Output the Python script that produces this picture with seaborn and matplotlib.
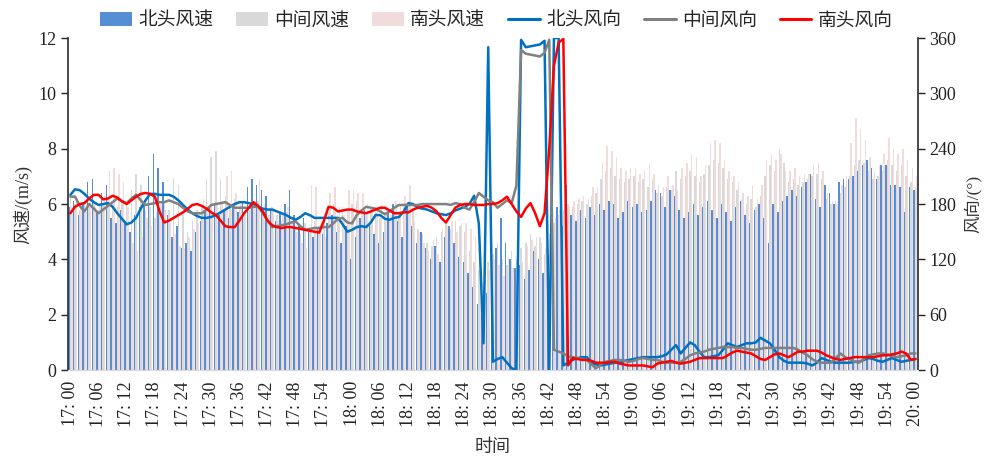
import numpy as np
import pandas as pd
import matplotlib
matplotlib.use("Agg")
import matplotlib.pyplot as plt
import seaborn as sns
from matplotlib.patches import Patch
from matplotlib.lines import Line2D

# ---------------- data (one value per minute, 17:00 .. 20:00) ----------------
tick_labels = ["17: 00", "17: 06", "17: 12", "17: 18", "17: 24", "17: 30", "17: 36",
               "17: 42", "17: 48", "17: 54", "18: 00", "18: 06", "18: 12", "18: 18",
               "18: 24", "18: 30", "18: 36", "18: 42", "18: 48", "18: 54", "19: 00",
               "19: 06", "19: 12", "19: 18", "19: 24", "19: 30", "19: 36", "19: 42",
               "19: 48", "19: 54", "20: 00"]

series_names = ["北头风速", "中间风速", "南头风速"]
line_names = ["北头风向", "中间风向", "南头风向"]

spd_north = [
    5.9, 6.1, 5.6, 6.0, 6.8, 6.9, 5.7, 6.4, 6.7, 5.5, 5.3, 5.8,
    5.4, 5.0, 5.6, 5.9, 6.0, 7.0, 7.8, 7.3, 6.8, 5.6, 4.8, 5.2,
    4.4, 4.6, 4.3, 5.0, 5.4, 5.7, 5.9, 6.0, 5.6, 5.8, 5.5, 5.9,
    5.7, 6.1, 6.6, 6.9, 6.7, 6.5, 6.3, 5.8, 5.4, 5.7, 6.0, 6.5,
    5.6, 5.2, 5.5, 5.0, 4.8, 5.1, 4.9, 5.3, 5.6, 5.0, 4.6, 5.2,
    4.0, 4.8, 5.5, 5.8, 5.3, 4.9, 4.6, 5.0, 5.7, 6.0, 5.4, 4.8,
    5.9, 5.2, 4.6, 5.0, 4.4, 4.0, 4.5, 3.9, 4.8, 5.2, 4.6, 4.1,
    3.9, 3.5, 3.0, 2.4, 2.0, 2.8, 3.6, 4.4, 5.5, 4.6, 4.0, 3.7,
    3.8, 3.3, 3.6, 4.3, 4.0, 3.5, 4.2, 4.8, 5.9, 5.2, 6.7, 5.6,
    5.4, 5.8, 5.5, 5.9, 5.6, 6.0, 5.8, 6.1, 6.0, 5.5, 5.7, 6.1,
    5.9, 6.0, 5.7, 5.8, 6.1, 6.5, 6.4, 5.9, 6.5, 6.3, 5.8, 5.5,
    5.7, 6.0, 5.6, 5.9, 6.1, 5.8, 5.5, 6.0, 5.7, 5.4, 5.9, 6.1,
    5.6, 5.3, 5.8, 6.0, 5.5, 4.6, 6.0, 5.7, 6.1, 6.3, 6.5, 6.3,
    6.6, 6.8, 7.1, 6.2, 5.9, 6.7, 6.4, 6.0, 6.8, 6.9, 6.9, 7.0,
    7.2, 7.4, 7.6, 7.3, 6.9, 7.4, 7.4, 6.7, 6.7, 6.6, 5.7, 6.6,
    6.5]

spd_mid = [
    6.3, 6.0, 5.8, 6.2, 5.9, 6.0, 5.8, 6.0, 6.2, 6.0, 5.9, 6.1,
    6.0, 6.5, 7.1, 6.7, 5.8, 5.9, 5.5, 5.7, 6.0, 5.8, 6.9, 6.7,
    5.6, 5.0, 5.4, 5.8, 5.9, 6.9, 7.7, 7.9, 6.9, 6.3, 5.9, 6.2,
    5.9, 5.6, 5.8, 6.0, 6.1, 5.7, 5.5, 5.9, 5.6, 5.4, 5.7, 5.3,
    5.1, 4.9, 5.3, 5.0, 5.4, 5.2, 5.5, 5.7, 6.0, 5.5, 5.9, 5.8,
    6.0, 6.1, 5.8, 5.6, 5.9, 5.7, 5.5, 5.7, 5.4, 5.8, 5.6, 5.9,
    6.0, 5.8, 5.1, 4.9, 4.6, 4.5, 4.8, 5.0, 5.3, 5.1, 5.4, 5.2,
    5.0, 4.3, 3.9, 3.6, 3.2, 3.9, 4.2, 4.6, 4.0, 3.8, 4.3, 4.0,
    4.4, 4.6, 4.9, 4.5, 4.8, 4.2, 4.9, 5.3, 5.6, 5.8, 6.0, 5.9,
    6.0, 6.1, 6.0, 6.3, 6.4, 6.9, 7.2, 7.3, 7.0, 6.9, 6.8, 6.9,
    7.0, 6.8, 6.9, 6.6, 6.9, 6.4, 6.3, 6.6, 6.5, 7.2, 6.9, 7.0,
    7.2, 7.0, 6.8, 7.1, 7.4, 7.6, 7.5, 7.3, 6.9, 6.8, 6.5, 6.2,
    6.0, 6.2, 5.9, 6.3, 7.0, 7.4, 7.2, 8.0, 7.5, 6.8, 6.9, 6.7,
    6.8, 6.9, 7.0, 7.1, 6.9, 6.2, 6.0, 6.1, 6.4, 6.6, 7.0, 7.4,
    7.6, 7.5, 7.2, 6.9, 7.0, 7.2, 7.6, 7.4, 7.2, 7.4, 7.0, 6.8,
    6.6]

spd_south = [
    5.9, 6.2, 6.0, 5.7, 6.1, 5.9, 6.0, 6.3, 7.2, 7.3, 7.1, 6.8,
    5.9, 4.6, 4.3, 4.8, 5.5, 5.2, 5.7, 6.0, 5.8, 5.3, 4.9, 4.5,
    4.4, 4.8, 5.1, 5.3, 6.2, 5.8, 5.6, 6.0, 6.1, 7.0, 7.2, 6.4,
    6.0, 5.7, 5.9, 6.1, 6.9, 6.0, 5.6, 5.8, 5.4, 5.6, 5.9, 5.5,
    5.0, 4.6, 4.4, 6.7, 6.6, 5.3, 4.8, 6.4, 6.6, 5.9, 5.6, 6.5,
    6.5, 6.4, 6.4, 6.0, 5.7, 5.9, 6.0, 5.8, 5.6, 6.1, 6.0, 6.3,
    6.7, 5.4, 5.0, 4.6, 4.3, 4.7, 4.2, 5.1, 5.2, 5.4, 5.0, 5.3,
    5.3, 5.1, 4.8, 3.9, 3.5, 3.6, 4.0, 3.8, 3.4, 4.1, 3.7, 4.2,
    3.9, 4.5, 4.7, 4.8, 4.6, 4.4, 5.0, 5.5, 5.8, 6.0, 5.9, 6.1,
    6.2, 6.3, 6.2, 6.6, 6.6, 7.5, 8.1, 7.9, 7.7, 7.3, 7.2, 7.3,
    7.3, 7.1, 7.2, 7.5, 7.1, 6.7, 6.6, 7.0, 6.7, 6.5, 7.3, 7.5,
    7.8, 7.7, 7.0, 7.4, 8.2, 8.3, 8.2, 7.6, 7.2, 7.0, 6.8, 6.4,
    6.3, 6.7, 6.2, 6.7, 7.6, 7.8, 7.6, 7.8, 7.2, 7.2, 7.3, 7.0,
    7.1, 7.1, 7.4, 7.5, 7.2, 6.4, 6.1, 6.0, 6.7, 7.0, 8.2, 9.1,
    8.7, 8.3, 7.7, 7.2, 7.4, 7.8, 8.4, 8.0, 7.8, 8.0, 7.6, 7.3,
    7.0]

dir_north = [
    190, 196, 195, 191, 186, 182, 179, 180, 181, 177, 170, 164,
    158, 160, 165, 175, 184, 191, 191, 190, 190, 190, 188, 184,
    179, 174, 170, 167, 165, 165, 166, 168, 171, 174, 177, 180,
    182, 182, 181, 180, 177, 175, 174, 174, 172, 170, 168, 165,
    163, 166, 170, 168, 165, 165, 165, 165, 165, 165, 158, 150,
    152, 155, 156, 155, 160, 168, 168, 164, 163, 165, 166, 172,
    181, 180, 176, 175, 174, 172, 170, 169, 168, 170, 173, 175,
    177, 180, 189, 159, 29, 350, 9, 12, 14, 8, 2, 0,
    358, 350, 351, 352, 353, 357, 0, 360, 360, 5, 8, 11,
    13, 14, 14, 8, 6, 5, 6, 7, 8, 8, 10, 11,
    12, 13, 14, 14, 14, 14, 15, 17, 22, 27, 18, 24,
    30, 27, 20, 14, 14, 15, 16, 22, 29, 27, 25, 27,
    29, 29, 30, 35, 32, 29, 22, 14, 10, 8, 8, 8,
    8, 7, 5, 8, 13, 11, 9, 8, 8, 8, 8, 9,
    9, 11, 13, 12, 10, 9, 11, 13, 11, 9, 10, 11,
    12]

dir_mid = [
    188, 188, 178, 172, 180, 175, 170, 174, 178, 182, 186, 183,
    181, 186, 190, 184, 179, 180, 181, 182, 182, 184, 182, 180,
    176, 172, 170, 170, 170, 174, 179, 180, 181, 182, 179, 176,
    176, 176, 176, 177, 177, 170, 162, 155, 156, 157, 158, 160,
    161, 156, 152, 153, 154, 154, 155, 155, 159, 164, 165, 160,
    159, 168, 173, 177, 176, 175, 172, 169, 172, 176, 179, 179,
    179, 179, 179, 180, 180, 180, 180, 180, 180, 179, 181, 180,
    176, 174, 182, 192, 188, 184, 182, 176, 180, 184, 181, 200,
    347, 343, 342, 341, 340, 344, 358, 22, 20, 18, 15, 14,
    13, 12, 11, 6, 2, 6, 9, 10, 11, 11, 10, 9,
    10, 12, 13, 12, 11, 11, 9, 8, 8, 8, 9, 12,
    16, 18, 19, 20, 22, 23, 24, 25, 25, 25, 24, 24,
    23, 22, 22, 23, 24, 24, 24, 24, 24, 24, 24, 22,
    19, 16, 12, 9, 8, 8, 8, 13, 18, 14, 12, 9,
    8, 12, 16, 17, 18, 18, 17, 15, 14, 15, 16, 18,
    18]

dir_south = [
    170, 177, 180, 181, 186, 190, 190, 185, 186, 189, 187, 183,
    180, 184, 188, 191, 192, 191, 188, 172, 160, 162, 165, 168,
    171, 175, 179, 180, 178, 175, 171, 168, 162, 156, 155, 155,
    162, 170, 176, 182, 178, 172, 162, 157, 155, 154, 155, 155,
    154, 153, 152, 151, 150, 149, 162, 177, 176, 172, 173, 174,
    174, 172, 171, 170, 172, 174, 176, 176, 173, 170, 170, 171,
    171, 174, 176, 177, 178, 176, 172, 165, 160, 168, 176, 179,
    180, 180, 179, 179, 179, 180, 180, 181, 184, 188, 180, 172,
    166, 175, 181, 170, 156, 170, 240, 330, 355, 359, 5, 13,
    12, 11, 11, 10, 8, 8, 8, 9, 9, 7, 6, 5,
    5, 5, 5, 4, 3, 7, 8, 9, 10, 8, 7, 8,
    9, 11, 13, 13, 13, 13, 13, 13, 16, 19, 21, 20,
    19, 18, 15, 12, 11, 14, 17, 18, 16, 14, 17, 20,
    20, 21, 21, 21, 19, 16, 14, 12, 11, 12, 13, 14,
    14, 14, 14, 14, 15, 16, 16, 17, 18, 20, 18, 11,
    12]

# ---------------- figure ----------------
sns.set_theme(style="ticks")
plt.rcParams["font.family"] = ["Liberation Serif", "Noto Sans CJK SC", "DejaVu Sans"]
plt.rcParams["axes.unicode_minus"] = False

n = len(spd_north)
minutes = [f"{17 + m // 60}: {m % 60:02d}" for m in range(n)]

df = pd.DataFrame({
    "time": minutes * 3,
    "speed": spd_north + spd_mid + spd_south,
    "series": [series_names[0]] * n + [series_names[1]] * n + [series_names[2]] * n,
})

bar_colors = ["#558ED5", "#D9D9D9", "#F2DCDB"]
line_colors = ["#0070C0", "#808080", "#FF0000"]

fig = plt.figure(figsize=(9.87, 4.58), dpi=100)
ax = fig.add_axes([0.0689, 0.192, 0.861, 0.725])

sns.barplot(data=df, x="time", y="speed", hue="series", order=minutes,
            hue_order=series_names, palette=bar_colors, saturation=1,
            width=0.95, linewidth=0, ax=ax, legend=False, errorbar=None)

ax2 = ax.twinx()
xs = np.arange(n)
for vals, c in zip([dir_north, dir_mid, dir_south], line_colors):
    sns.lineplot(x=xs, y=vals, color=c, linewidth=1.8, ax=ax2, legend=False)

ax.set_xlim(-0.5, n - 0.5)
ax2.set_xlim(-0.5, n - 0.5)
ax.set_ylim(0, 12)
ax2.set_ylim(0, 360)
ax.set_yticks(np.arange(0, 13, 2))
ax2.set_yticks(np.arange(0, 361, 60))

ax.set_xticks(np.arange(0, n, 6))
ax.set_xticklabels(tick_labels, rotation=90, fontsize=13, color="#222222")
ax.tick_params(axis="x", length=0, pad=8)
ax.tick_params(axis="y", labelsize=13, length=5, width=1, colors="#222222", direction="out")
ax2.tick_params(axis="y", labelsize=13, length=5, width=1, colors="#222222", direction="out")

ax.set_xlabel("时间", fontsize=13, color="#333333", labelpad=9)
ax.set_ylabel("风速/(m/s)", fontsize=13, color="#333333", labelpad=4)
ax2.set_ylabel("风向/(°)", fontsize=12.5, color="#333333", labelpad=5)

for a in (ax, ax2):
    a.spines["top"].set_visible(False)
    a.spines["bottom"].set_color("#D9D9D9")
    a.spines["bottom"].set_linewidth(0.8)
ax.spines["left"].set_color("#333333")
ax.spines["right"].set_visible(False)
ax2.spines["left"].set_visible(False)
ax2.spines["right"].set_color("#333333")
ax2.grid(False)
ax.grid(False)

handles = [Patch(facecolor=c, edgecolor="none") for c in bar_colors] + \
          [Line2D([0], [0], color=c, linewidth=2.2) for c in line_colors]
labels = series_names + line_names
fig.legend(handles, labels, loc="center", bbox_to_anchor=(0.503, 0.955), ncol=6,
           frameon=False, fontsize=13.5, handlelength=1.7, handleheight=0.75,
           handletextpad=0.35, columnspacing=1.2)

fig.savefig("out.png", dpi=100)
